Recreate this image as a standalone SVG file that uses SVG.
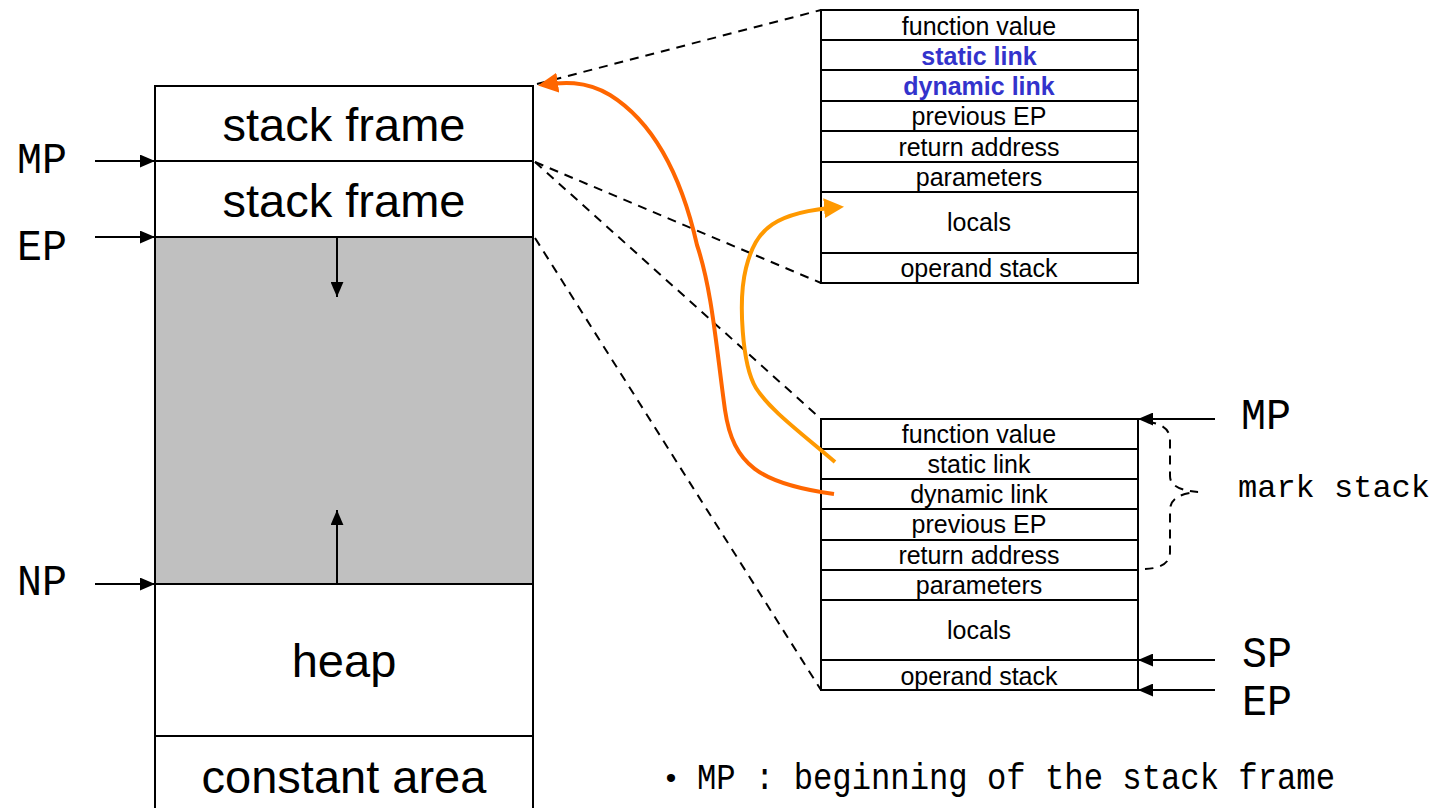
<svg xmlns="http://www.w3.org/2000/svg" width="1437" height="808" viewBox="0 0 1437 808">
  <style>
    .cell { fill: #ffffff; stroke: #000000; stroke-width: 2; }
    .big { font-family: "Liberation Sans", Arial, sans-serif; font-size: 47px; fill: #000; text-anchor: middle; }
    .row { font-family: "Liberation Sans", Arial, sans-serif; font-size: 25px; fill: #000; text-anchor: middle; }
    .link { font-weight: bold; fill: #3333CC; }
    .ptr { font-family: "Liberation Mono", "DejaVu Sans Mono", monospace; font-size: 44px; fill: #000; }
    .mono { font-family: "Liberation Mono", "DejaVu Sans Mono", monospace; fill: #000; }
    .arrow { stroke: #000; stroke-width: 2; fill: none; }
    .dash { stroke: #000; stroke-width: 2; fill: none; stroke-dasharray: 9 7; }
  </style>
  <defs>
    <marker id="head" viewBox="0 0 14 12" refX="14" refY="6" markerWidth="15" markerHeight="13" markerUnits="userSpaceOnUse" orient="auto">
      <path d="M0,0 L14,6 L0,12 Z" fill="#000"/>
    </marker>
    <marker id="headDyn" viewBox="0 0 10 10" refX="8" refY="5" markerWidth="5" markerHeight="5" orient="auto">
      <path d="M0,0 L10,5 L0,10 Z" fill="#FF6600"/>
    </marker>
    <marker id="headSta" viewBox="0 0 10 10" refX="8" refY="5" markerWidth="5" markerHeight="5" orient="auto">
      <path d="M0,0 L10,5 L0,10 Z" fill="#FF9900"/>
    </marker>
  </defs>

  <!-- memory layout column -->
  <g id="memory">
    <rect class="cell" x="155" y="86" width="378" height="75"/>
    <rect class="cell" x="155" y="161" width="378" height="76"/>
    <rect x="155" y="237" width="378" height="347" fill="#C0C0C0" stroke="#000" stroke-width="2"/>
    <rect class="cell" x="155" y="584" width="378" height="152"/>
    <rect class="cell" x="155" y="736" width="378" height="90"/>
    <text class="big" x="344" y="141">stack frame</text>
    <text class="big" x="344" y="217">stack frame</text>
    <text class="big" x="344" y="677">heap</text>
    <text class="big" x="344" y="793">constant area</text>
    <line class="arrow" x1="337" y1="237" x2="337" y2="297" marker-end="url(#head)"/>
    <line class="arrow" x1="337" y1="584" x2="337" y2="510" marker-end="url(#head)"/>
  </g>

  <!-- pointer labels on the memory column -->
  <g id="left-pointers">
    <line class="arrow" x1="95" y1="161" x2="155" y2="161" marker-end="url(#head)"/>
    <line class="arrow" x1="95" y1="237" x2="155" y2="237" marker-end="url(#head)"/>
    <line class="arrow" x1="95" y1="584" x2="155" y2="584" marker-end="url(#head)"/>
    <text class="ptr" x="17" y="173" textLength="50" lengthAdjust="spacingAndGlyphs">MP</text>
    <text class="ptr" x="17" y="260" textLength="50" lengthAdjust="spacingAndGlyphs">EP</text>
    <text class="ptr" x="17" y="595" textLength="50" lengthAdjust="spacingAndGlyphs">NP</text>
  </g>

  <!-- caller frame detail -->
  <g id="frame-upper">
    <rect class="cell" x="821" y="10" width="317" height="30"/>
    <rect class="cell" x="821" y="40" width="317" height="30"/>
    <rect class="cell" x="821" y="70" width="317" height="31"/>
    <rect class="cell" x="821" y="101" width="317" height="30"/>
    <rect class="cell" x="821" y="131" width="317" height="31"/>
    <rect class="cell" x="821" y="162" width="317" height="30"/>
    <rect class="cell" x="821" y="192" width="317" height="61"/>
    <rect class="cell" x="821" y="253" width="317" height="30"/>
    <text class="row" x="979" y="35">function value</text>
    <text class="row link" x="979" y="65">static link</text>
    <text class="row link" x="979" y="95">dynamic link</text>
    <text class="row" x="979" y="125">previous EP</text>
    <text class="row" x="979" y="156">return address</text>
    <text class="row" x="979" y="186">parameters</text>
    <text class="row" x="979" y="231">locals</text>
    <text class="row" x="979" y="277">operand stack</text>
  </g>

  <!-- current frame detail -->
  <g id="frame-lower">
    <rect class="cell" x="821" y="419" width="317" height="30"/>
    <rect class="cell" x="821" y="449" width="317" height="30"/>
    <rect class="cell" x="821" y="479" width="317" height="30"/>
    <rect class="cell" x="821" y="509" width="317" height="31"/>
    <rect class="cell" x="821" y="540" width="317" height="30"/>
    <rect class="cell" x="821" y="570" width="317" height="30"/>
    <rect class="cell" x="821" y="600" width="317" height="60"/>
    <rect class="cell" x="821" y="660" width="317" height="30"/>
    <text class="row" x="979" y="443">function value</text>
    <text class="row" x="979" y="473">static link</text>
    <text class="row" x="979" y="503">dynamic link</text>
    <text class="row" x="979" y="533">previous EP</text>
    <text class="row" x="979" y="564">return address</text>
    <text class="row" x="979" y="594">parameters</text>
    <text class="row" x="979" y="639">locals</text>
    <text class="row" x="979" y="685">operand stack</text>
  </g>

  <!-- pointers into the current frame -->
  <g id="right-pointers">
    <line class="arrow" x1="1215" y1="419" x2="1138" y2="419" marker-end="url(#head)"/>
    <line class="arrow" x1="1215" y1="660" x2="1138" y2="660" marker-end="url(#head)"/>
    <line class="arrow" x1="1215" y1="690" x2="1138" y2="690" marker-end="url(#head)"/>
    <text class="ptr" x="1241" y="429" textLength="50" lengthAdjust="spacingAndGlyphs">MP</text>
    <text class="ptr" x="1242" y="667" font-size="41" textLength="50" lengthAdjust="spacingAndGlyphs">SP</text>
    <text class="ptr" x="1242" y="715" font-size="41" textLength="50" lengthAdjust="spacingAndGlyphs">EP</text>
  </g>

  <!-- mark stack brace -->
  <g id="mark-stack">
    <path class="dash" d="M1147,422 Q1170,424 1170,440 L1170,476 Q1170,490 1198,492 Q1170,494 1170,510 L1170,552 Q1170,568 1145,569" stroke-dasharray="8 6"/>
    <text class="mono" x="1238" y="497" font-size="32" textLength="192" lengthAdjust="spacingAndGlyphs">mark stack</text>
  </g>

  <!-- connectors -->
  <g id="connectors">
    <line class="dash" x1="537" y1="84" x2="821" y2="10"/>
    <line class="dash" x1="535" y1="162" x2="821" y2="283"/>
    <line class="dash" x1="535" y1="162" x2="821" y2="419"/>
    <line class="dash" x1="535" y1="238" x2="821" y2="690"/>
    <path d="M834,494 C760,484 733,465 725,410 C716,345 712,290 697,245 C680,170 650,120 610,95 C585,80 562,82 542,85" fill="none" stroke="#FF6600" stroke-width="4" marker-end="url(#headDyn)"/>
    <path d="M835,462 C800,432 770,410 756,388 C742,365 738,300 746,268 C756,228 775,212 840,207" fill="none" stroke="#FF9900" stroke-width="4" marker-end="url(#headSta)"/>
  </g>

  <!-- legend -->
  <g id="legend">
    <text class="mono" x="662" y="788" font-size="30">•</text>
    <text class="mono" x="697" y="789" font-size="37" textLength="638" lengthAdjust="spacingAndGlyphs">MP : beginning of the stack frame</text>
  </g>
</svg>
